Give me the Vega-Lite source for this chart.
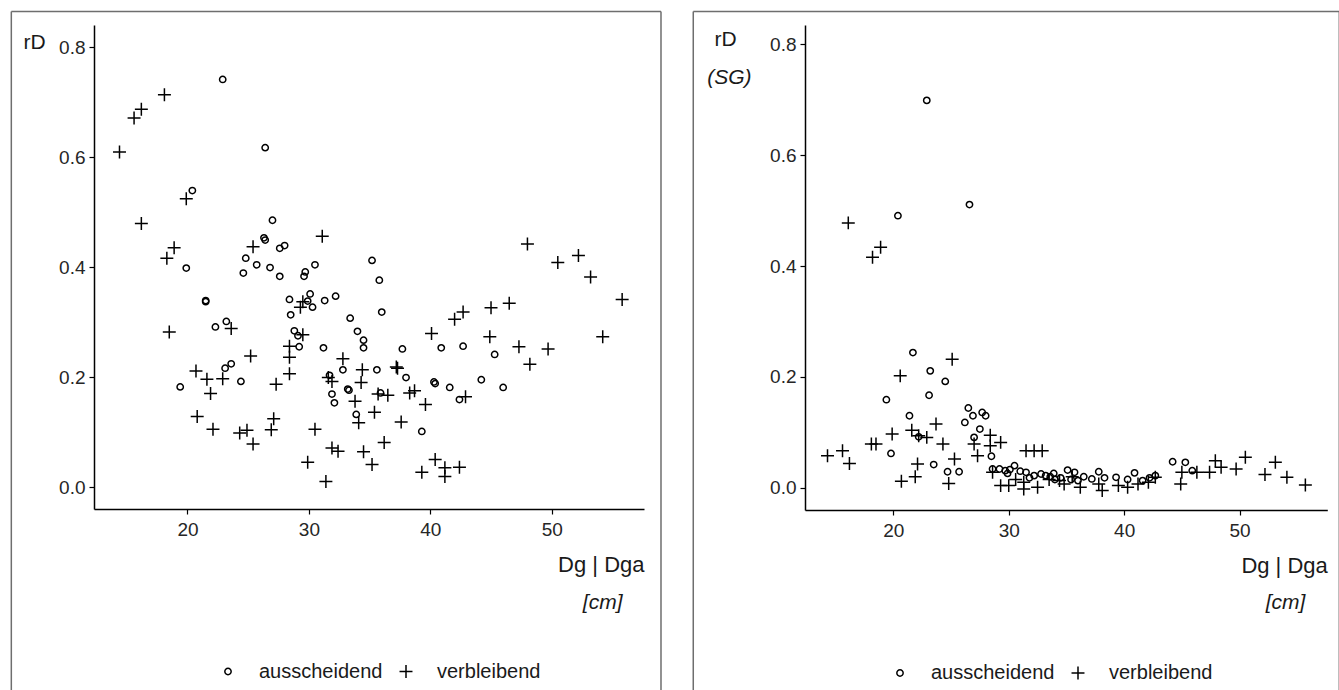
{
"$schema":"https://vega.github.io/schema/vega-lite/v6.json",
"background":"white",
"padding":{"left":10,"top":10,"right":0,"bottom":0},
"spacing":30,
"config":{"view":{"stroke":null},"font":"Liberation Sans",
"axis":{"grid":false,"domainColor":"#000","domainWidth":1.5,"tickColor":"#000","tickWidth":1.2,"tickSize":5,"labelFontSize":19,"labelColor":"#262626","labelPadding":4,"titleFontWeight":"normal","titleColor":"#1a1a1a"},
"legend":{"symbolStrokeColor":"#000","symbolStrokeWidth":1.5,"symbolSize":40,"labelFontSize":20,"labelColor":"#1a1a1a","labelOffset":21,"columnPadding":13}},
"datasets":{"pts":[
{"panel":"L","Typ":"ausscheidend","Dg":22.9,"rD":0.741},{"panel":"L","Typ":"ausscheidend","Dg":26.4,"rD":0.617},{"panel":"L","Typ":"ausscheidend","Dg":20.4,"rD":0.539},{"panel":"L","Typ":"ausscheidend","Dg":27.0,"rD":0.485},{"panel":"L","Typ":"ausscheidend","Dg":26.3,"rD":0.453},{"panel":"L","Typ":"ausscheidend","Dg":26.4,"rD":0.449},{"panel":"L","Typ":"ausscheidend","Dg":27.6,"rD":0.434},{"panel":"L","Typ":"ausscheidend","Dg":28.0,"rD":0.439},{"panel":"L","Typ":"ausscheidend","Dg":24.8,"rD":0.416},{"panel":"L","Typ":"ausscheidend","Dg":25.7,"rD":0.404},{"panel":"L","Typ":"ausscheidend","Dg":26.8,"rD":0.399},{"panel":"L","Typ":"ausscheidend","Dg":24.6,"rD":0.389},{"panel":"L","Typ":"ausscheidend","Dg":27.6,"rD":0.383},{"panel":"L","Typ":"ausscheidend","Dg":29.7,"rD":0.391},{"panel":"L","Typ":"ausscheidend","Dg":29.6,"rD":0.383},{"panel":"L","Typ":"ausscheidend","Dg":30.5,"rD":0.404},{"panel":"L","Typ":"ausscheidend","Dg":35.2,"rD":0.412},{"panel":"L","Typ":"ausscheidend","Dg":35.8,"rD":0.376},{"panel":"L","Typ":"ausscheidend","Dg":19.9,"rD":0.398},{"panel":"L","Typ":"ausscheidend","Dg":21.5,"rD":0.339},{"panel":"L","Typ":"ausscheidend","Dg":21.5,"rD":0.337},{"panel":"L","Typ":"ausscheidend","Dg":28.4,"rD":0.341},{"panel":"L","Typ":"ausscheidend","Dg":30.1,"rD":0.351},{"panel":"L","Typ":"ausscheidend","Dg":29.9,"rD":0.338},{"panel":"L","Typ":"ausscheidend","Dg":30.3,"rD":0.327},{"panel":"L","Typ":"ausscheidend","Dg":31.3,"rD":0.339},{"panel":"L","Typ":"ausscheidend","Dg":32.2,"rD":0.347},{"panel":"L","Typ":"ausscheidend","Dg":28.5,"rD":0.313},{"panel":"L","Typ":"ausscheidend","Dg":36.0,"rD":0.318},{"panel":"L","Typ":"ausscheidend","Dg":33.4,"rD":0.307},{"panel":"L","Typ":"ausscheidend","Dg":34.0,"rD":0.283},{"panel":"L","Typ":"ausscheidend","Dg":34.5,"rD":0.267},{"panel":"L","Typ":"ausscheidend","Dg":34.5,"rD":0.253},{"panel":"L","Typ":"ausscheidend","Dg":22.3,"rD":0.291},{"panel":"L","Typ":"ausscheidend","Dg":23.2,"rD":0.301},{"panel":"L","Typ":"ausscheidend","Dg":28.8,"rD":0.284},{"panel":"L","Typ":"ausscheidend","Dg":29.1,"rD":0.275},{"panel":"L","Typ":"ausscheidend","Dg":29.2,"rD":0.255},{"panel":"L","Typ":"ausscheidend","Dg":31.2,"rD":0.253},{"panel":"L","Typ":"ausscheidend","Dg":37.7,"rD":0.251},{"panel":"L","Typ":"ausscheidend","Dg":40.9,"rD":0.253},{"panel":"L","Typ":"ausscheidend","Dg":42.7,"rD":0.256},{"panel":"L","Typ":"ausscheidend","Dg":45.3,"rD":0.241},{"panel":"L","Typ":"ausscheidend","Dg":32.8,"rD":0.213},{"panel":"L","Typ":"ausscheidend","Dg":35.6,"rD":0.213},{"panel":"L","Typ":"ausscheidend","Dg":31.7,"rD":0.203},{"panel":"L","Typ":"ausscheidend","Dg":23.1,"rD":0.216},{"panel":"L","Typ":"ausscheidend","Dg":23.6,"rD":0.224},{"panel":"L","Typ":"ausscheidend","Dg":19.4,"rD":0.182},{"panel":"L","Typ":"ausscheidend","Dg":24.4,"rD":0.192},{"panel":"L","Typ":"ausscheidend","Dg":31.9,"rD":0.169},{"panel":"L","Typ":"ausscheidend","Dg":32.1,"rD":0.153},{"panel":"L","Typ":"ausscheidend","Dg":33.2,"rD":0.178},{"panel":"L","Typ":"ausscheidend","Dg":33.3,"rD":0.176},{"panel":"L","Typ":"ausscheidend","Dg":35.9,"rD":0.171},{"panel":"L","Typ":"ausscheidend","Dg":38.0,"rD":0.199},{"panel":"L","Typ":"ausscheidend","Dg":40.3,"rD":0.191},{"panel":"L","Typ":"ausscheidend","Dg":40.4,"rD":0.188},{"panel":"L","Typ":"ausscheidend","Dg":41.6,"rD":0.181},{"panel":"L","Typ":"ausscheidend","Dg":44.2,"rD":0.195},{"panel":"L","Typ":"ausscheidend","Dg":46.0,"rD":0.181},{"panel":"L","Typ":"ausscheidend","Dg":42.4,"rD":0.159},{"panel":"L","Typ":"ausscheidend","Dg":33.9,"rD":0.132},{"panel":"L","Typ":"ausscheidend","Dg":39.3,"rD":0.101},
{"panel":"L","Typ":"verbleibend","Dg":14.4,"rD":0.609},{"panel":"L","Typ":"verbleibend","Dg":15.6,"rD":0.671},{"panel":"L","Typ":"verbleibend","Dg":16.2,"rD":0.687},{"panel":"L","Typ":"verbleibend","Dg":18.1,"rD":0.713},{"panel":"L","Typ":"verbleibend","Dg":16.2,"rD":0.479},{"panel":"L","Typ":"verbleibend","Dg":19.9,"rD":0.524},{"panel":"L","Typ":"verbleibend","Dg":25.4,"rD":0.437},{"panel":"L","Typ":"verbleibend","Dg":31.1,"rD":0.456},{"panel":"L","Typ":"verbleibend","Dg":18.9,"rD":0.435},{"panel":"L","Typ":"verbleibend","Dg":18.3,"rD":0.416},{"panel":"L","Typ":"verbleibend","Dg":48.0,"rD":0.442},{"panel":"L","Typ":"verbleibend","Dg":50.5,"rD":0.408},{"panel":"L","Typ":"verbleibend","Dg":52.2,"rD":0.421},{"panel":"L","Typ":"verbleibend","Dg":53.2,"rD":0.382},{"panel":"L","Typ":"verbleibend","Dg":55.8,"rD":0.341},{"panel":"L","Typ":"verbleibend","Dg":54.2,"rD":0.273},{"panel":"L","Typ":"verbleibend","Dg":18.5,"rD":0.282},{"panel":"L","Typ":"verbleibend","Dg":23.6,"rD":0.288},{"panel":"L","Typ":"verbleibend","Dg":29.5,"rD":0.337},{"panel":"L","Typ":"verbleibend","Dg":29.3,"rD":0.327},{"panel":"L","Typ":"verbleibend","Dg":29.5,"rD":0.277},{"panel":"L","Typ":"verbleibend","Dg":28.4,"rD":0.256},{"panel":"L","Typ":"verbleibend","Dg":28.4,"rD":0.236},{"panel":"L","Typ":"verbleibend","Dg":25.2,"rD":0.238},{"panel":"L","Typ":"verbleibend","Dg":28.4,"rD":0.206},{"panel":"L","Typ":"verbleibend","Dg":20.7,"rD":0.211},{"panel":"L","Typ":"verbleibend","Dg":21.6,"rD":0.196},{"panel":"L","Typ":"verbleibend","Dg":21.9,"rD":0.170},{"panel":"L","Typ":"verbleibend","Dg":22.9,"rD":0.197},{"panel":"L","Typ":"verbleibend","Dg":27.3,"rD":0.187},{"panel":"L","Typ":"verbleibend","Dg":31.6,"rD":0.199},{"panel":"L","Typ":"verbleibend","Dg":31.9,"rD":0.192},{"panel":"L","Typ":"verbleibend","Dg":32.8,"rD":0.233},{"panel":"L","Typ":"verbleibend","Dg":34.4,"rD":0.213},{"panel":"L","Typ":"verbleibend","Dg":37.2,"rD":0.218},{"panel":"L","Typ":"verbleibend","Dg":37.3,"rD":0.216},{"panel":"L","Typ":"verbleibend","Dg":34.3,"rD":0.190},{"panel":"L","Typ":"verbleibend","Dg":33.8,"rD":0.156},{"panel":"L","Typ":"verbleibend","Dg":35.7,"rD":0.169},{"panel":"L","Typ":"verbleibend","Dg":36.5,"rD":0.167},{"panel":"L","Typ":"verbleibend","Dg":38.3,"rD":0.171},{"panel":"L","Typ":"verbleibend","Dg":38.7,"rD":0.175},{"panel":"L","Typ":"verbleibend","Dg":39.6,"rD":0.150},{"panel":"L","Typ":"verbleibend","Dg":42.9,"rD":0.164},{"panel":"L","Typ":"verbleibend","Dg":40.1,"rD":0.279},{"panel":"L","Typ":"verbleibend","Dg":42.0,"rD":0.305},{"panel":"L","Typ":"verbleibend","Dg":42.7,"rD":0.318},{"panel":"L","Typ":"verbleibend","Dg":45.0,"rD":0.326},{"panel":"L","Typ":"verbleibend","Dg":46.5,"rD":0.334},{"panel":"L","Typ":"verbleibend","Dg":44.9,"rD":0.273},{"panel":"L","Typ":"verbleibend","Dg":47.3,"rD":0.255},{"panel":"L","Typ":"verbleibend","Dg":49.7,"rD":0.251},{"panel":"L","Typ":"verbleibend","Dg":48.2,"rD":0.223},{"panel":"L","Typ":"verbleibend","Dg":34.1,"rD":0.117},{"panel":"L","Typ":"verbleibend","Dg":35.4,"rD":0.136},{"panel":"L","Typ":"verbleibend","Dg":37.6,"rD":0.118},{"panel":"L","Typ":"verbleibend","Dg":20.8,"rD":0.128},{"panel":"L","Typ":"verbleibend","Dg":22.1,"rD":0.105},{"panel":"L","Typ":"verbleibend","Dg":24.3,"rD":0.098},{"panel":"L","Typ":"verbleibend","Dg":24.9,"rD":0.103},{"panel":"L","Typ":"verbleibend","Dg":25.4,"rD":0.078},{"panel":"L","Typ":"verbleibend","Dg":27.1,"rD":0.124},{"panel":"L","Typ":"verbleibend","Dg":26.9,"rD":0.104},{"panel":"L","Typ":"verbleibend","Dg":30.5,"rD":0.105},{"panel":"L","Typ":"verbleibend","Dg":29.9,"rD":0.045},{"panel":"L","Typ":"verbleibend","Dg":31.4,"rD":0.010},{"panel":"L","Typ":"verbleibend","Dg":31.9,"rD":0.071},{"panel":"L","Typ":"verbleibend","Dg":32.4,"rD":0.065},{"panel":"L","Typ":"verbleibend","Dg":34.5,"rD":0.064},{"panel":"L","Typ":"verbleibend","Dg":35.2,"rD":0.041},{"panel":"L","Typ":"verbleibend","Dg":36.2,"rD":0.081},{"panel":"L","Typ":"verbleibend","Dg":40.4,"rD":0.050},{"panel":"L","Typ":"verbleibend","Dg":39.3,"rD":0.027},{"panel":"L","Typ":"verbleibend","Dg":41.2,"rD":0.035},{"panel":"L","Typ":"verbleibend","Dg":41.2,"rD":0.019},{"panel":"L","Typ":"verbleibend","Dg":42.4,"rD":0.036},
{"panel":"R","Typ":"ausscheidend","Dg":22.9,"rD":0.699},{"panel":"R","Typ":"ausscheidend","Dg":26.6,"rD":0.511},{"panel":"R","Typ":"ausscheidend","Dg":20.4,"rD":0.491},{"panel":"R","Typ":"ausscheidend","Dg":21.7,"rD":0.244},{"panel":"R","Typ":"ausscheidend","Dg":23.2,"rD":0.211},{"panel":"R","Typ":"ausscheidend","Dg":24.5,"rD":0.192},{"panel":"R","Typ":"ausscheidend","Dg":23.1,"rD":0.167},{"panel":"R","Typ":"ausscheidend","Dg":19.4,"rD":0.159},{"panel":"R","Typ":"ausscheidend","Dg":21.4,"rD":0.130},{"panel":"R","Typ":"ausscheidend","Dg":22.2,"rD":0.092},{"panel":"R","Typ":"ausscheidend","Dg":19.8,"rD":0.062},{"panel":"R","Typ":"ausscheidend","Dg":23.5,"rD":0.042},{"panel":"R","Typ":"ausscheidend","Dg":24.7,"rD":0.029},{"panel":"R","Typ":"ausscheidend","Dg":25.7,"rD":0.029},{"panel":"R","Typ":"ausscheidend","Dg":26.5,"rD":0.144},{"panel":"R","Typ":"ausscheidend","Dg":26.9,"rD":0.130},{"panel":"R","Typ":"ausscheidend","Dg":26.2,"rD":0.118},{"panel":"R","Typ":"ausscheidend","Dg":27.7,"rD":0.136},{"panel":"R","Typ":"ausscheidend","Dg":28.0,"rD":0.130},{"panel":"R","Typ":"ausscheidend","Dg":27.5,"rD":0.106},{"panel":"R","Typ":"ausscheidend","Dg":27.0,"rD":0.091},{"panel":"R","Typ":"ausscheidend","Dg":28.5,"rD":0.057},{"panel":"R","Typ":"ausscheidend","Dg":28.6,"rD":0.034},{"panel":"R","Typ":"ausscheidend","Dg":29.2,"rD":0.034},{"panel":"R","Typ":"ausscheidend","Dg":29.7,"rD":0.031},{"panel":"R","Typ":"ausscheidend","Dg":30.1,"rD":0.033},{"panel":"R","Typ":"ausscheidend","Dg":30.5,"rD":0.040},{"panel":"R","Typ":"ausscheidend","Dg":31.0,"rD":0.030},{"panel":"R","Typ":"ausscheidend","Dg":31.5,"rD":0.028},{"panel":"R","Typ":"ausscheidend","Dg":32.2,"rD":0.022},{"panel":"R","Typ":"ausscheidend","Dg":32.8,"rD":0.025},{"panel":"R","Typ":"ausscheidend","Dg":33.2,"rD":0.022},{"panel":"R","Typ":"ausscheidend","Dg":33.9,"rD":0.026},{"panel":"R","Typ":"ausscheidend","Dg":34.5,"rD":0.018},{"panel":"R","Typ":"ausscheidend","Dg":35.1,"rD":0.032},{"panel":"R","Typ":"ausscheidend","Dg":35.7,"rD":0.028},{"panel":"R","Typ":"ausscheidend","Dg":36.0,"rD":0.013},{"panel":"R","Typ":"ausscheidend","Dg":36.5,"rD":0.020},{"panel":"R","Typ":"ausscheidend","Dg":37.8,"rD":0.029},{"panel":"R","Typ":"ausscheidend","Dg":38.3,"rD":0.018},{"panel":"R","Typ":"ausscheidend","Dg":39.3,"rD":0.019},{"panel":"R","Typ":"ausscheidend","Dg":40.3,"rD":0.015},{"panel":"R","Typ":"ausscheidend","Dg":40.9,"rD":0.027},{"panel":"R","Typ":"ausscheidend","Dg":41.6,"rD":0.013},{"panel":"R","Typ":"ausscheidend","Dg":42.2,"rD":0.018},{"panel":"R","Typ":"ausscheidend","Dg":42.7,"rD":0.022},{"panel":"R","Typ":"ausscheidend","Dg":44.2,"rD":0.047},{"panel":"R","Typ":"ausscheidend","Dg":45.3,"rD":0.046},{"panel":"R","Typ":"ausscheidend","Dg":45.9,"rD":0.031},{"panel":"R","Typ":"ausscheidend","Dg":34.0,"rD":0.015},{"panel":"R","Typ":"ausscheidend","Dg":31.8,"rD":0.018},{"panel":"R","Typ":"ausscheidend","Dg":37.2,"rD":0.016},{"panel":"R","Typ":"ausscheidend","Dg":29.9,"rD":0.026},{"panel":"R","Typ":"ausscheidend","Dg":33.6,"rD":0.020},{"panel":"R","Typ":"ausscheidend","Dg":35.4,"rD":0.015},
{"panel":"R","Typ":"verbleibend","Dg":14.3,"rD":0.058},{"panel":"R","Typ":"verbleibend","Dg":15.6,"rD":0.067},{"panel":"R","Typ":"verbleibend","Dg":16.2,"rD":0.044},{"panel":"R","Typ":"verbleibend","Dg":16.1,"rD":0.478},{"panel":"R","Typ":"verbleibend","Dg":18.9,"rD":0.434},{"panel":"R","Typ":"verbleibend","Dg":18.2,"rD":0.416},{"panel":"R","Typ":"verbleibend","Dg":18.1,"rD":0.079},{"panel":"R","Typ":"verbleibend","Dg":18.5,"rD":0.079},{"panel":"R","Typ":"verbleibend","Dg":19.9,"rD":0.097},{"panel":"R","Typ":"verbleibend","Dg":20.6,"rD":0.202},{"panel":"R","Typ":"verbleibend","Dg":25.1,"rD":0.232},{"panel":"R","Typ":"verbleibend","Dg":23.7,"rD":0.115},{"panel":"R","Typ":"verbleibend","Dg":21.6,"rD":0.104},{"panel":"R","Typ":"verbleibend","Dg":22.2,"rD":0.094},{"panel":"R","Typ":"verbleibend","Dg":22.9,"rD":0.091},{"panel":"R","Typ":"verbleibend","Dg":24.3,"rD":0.079},{"panel":"R","Typ":"verbleibend","Dg":22.1,"rD":0.043},{"panel":"R","Typ":"verbleibend","Dg":21.9,"rD":0.020},{"panel":"R","Typ":"verbleibend","Dg":20.7,"rD":0.012},{"panel":"R","Typ":"verbleibend","Dg":25.3,"rD":0.052},{"panel":"R","Typ":"verbleibend","Dg":24.8,"rD":0.008},{"panel":"R","Typ":"verbleibend","Dg":27.0,"rD":0.079},{"panel":"R","Typ":"verbleibend","Dg":27.3,"rD":0.058},{"panel":"R","Typ":"verbleibend","Dg":28.4,"rD":0.095},{"panel":"R","Typ":"verbleibend","Dg":29.3,"rD":0.082},{"panel":"R","Typ":"verbleibend","Dg":28.4,"rD":0.076},{"panel":"R","Typ":"verbleibend","Dg":28.6,"rD":0.028},{"panel":"R","Typ":"verbleibend","Dg":29.3,"rD":0.004},{"panel":"R","Typ":"verbleibend","Dg":30.0,"rD":0.004},{"panel":"R","Typ":"verbleibend","Dg":31.5,"rD":0.067},{"panel":"R","Typ":"verbleibend","Dg":32.2,"rD":0.067},{"panel":"R","Typ":"verbleibend","Dg":32.9,"rD":0.067},{"panel":"R","Typ":"verbleibend","Dg":31.3,"rD":0.010},{"panel":"R","Typ":"verbleibend","Dg":31.3,"rD":-0.002},{"panel":"R","Typ":"verbleibend","Dg":32.5,"rD":0.001},{"panel":"R","Typ":"verbleibend","Dg":34.4,"rD":0.013},{"panel":"R","Typ":"verbleibend","Dg":34.8,"rD":0.007},{"panel":"R","Typ":"verbleibend","Dg":36.2,"rD":0.001},{"panel":"R","Typ":"verbleibend","Dg":37.8,"rD":0.007},{"panel":"R","Typ":"verbleibend","Dg":38.1,"rD":-0.005},{"panel":"R","Typ":"verbleibend","Dg":39.5,"rD":0.004},{"panel":"R","Typ":"verbleibend","Dg":40.3,"rD":0.001},{"panel":"R","Typ":"verbleibend","Dg":41.2,"rD":0.007},{"panel":"R","Typ":"verbleibend","Dg":42.1,"rD":0.010},{"panel":"R","Typ":"verbleibend","Dg":42.7,"rD":0.019},{"panel":"R","Typ":"verbleibend","Dg":44.9,"rD":0.007},{"panel":"R","Typ":"verbleibend","Dg":45.0,"rD":0.028},{"panel":"R","Typ":"verbleibend","Dg":46.3,"rD":0.028},{"panel":"R","Typ":"verbleibend","Dg":47.4,"rD":0.028},{"panel":"R","Typ":"verbleibend","Dg":47.9,"rD":0.049},{"panel":"R","Typ":"verbleibend","Dg":48.4,"rD":0.037},{"panel":"R","Typ":"verbleibend","Dg":49.7,"rD":0.034},{"panel":"R","Typ":"verbleibend","Dg":50.5,"rD":0.055},{"panel":"R","Typ":"verbleibend","Dg":52.2,"rD":0.024},{"panel":"R","Typ":"verbleibend","Dg":53.1,"rD":0.046},{"panel":"R","Typ":"verbleibend","Dg":54.1,"rD":0.019},{"panel":"R","Typ":"verbleibend","Dg":55.7,"rD":0.005},{"panel":"R","Typ":"verbleibend","Dg":33.5,"rD":0.015},{"panel":"R","Typ":"verbleibend","Dg":35.5,"rD":0.020},{"panel":"R","Typ":"verbleibend","Dg":30.6,"rD":0.015}
]},
"hconcat":[
{"width":550,"height":484,
"layer":[
{"data":{"values":[{}]},"mark":{"type":"rule","color":"#6e6e6e","strokeWidth":1.5,"clip":false},"encoding":{"x":{"datum":5.49,"type":"quantitative"},"y":{"datum":0.8645,"type":"quantitative"},"y2":{"datum":-0.37}}},
{"data":{"values":[{}]},"mark":{"type":"rule","color":"#6e6e6e","strokeWidth":1.5,"clip":false},"encoding":{"x":{"datum":5.49,"type":"quantitative"},"x2":{"datum":59.0},"y":{"datum":0.8645,"type":"quantitative"}}},
{"data":{"values":[{}]},"mark":{"type":"rule","color":"#6e6e6e","strokeWidth":1.5,"clip":false},"encoding":{"x":{"datum":59.0,"type":"quantitative"},"y":{"datum":0.8645,"type":"quantitative"},"y2":{"datum":-0.37}}},
{"data":{"values":[{}]},"mark":{"type":"text","text":"[cm]","align":"right","baseline":"alphabetic","fontStyle":"italic","fontSize":21,"color":"#1a1a1a"},"encoding":{"x":{"datum":55.83,"type":"quantitative"},"y":{"datum":-0.2227,"type":"quantitative"}}},
{"data":{"name":"pts"},"transform":[{"filter":"datum.panel === 'L'"}],
"mark":{"type":"point","filled":false,"strokeWidth":1.5,"opacity":1,"color":"#000","size":40},
"encoding":{
"x":{"field":"Dg","type":"quantitative","scale":{"domain":[12.3,57.6],"nice":false,"zero":false},"axis":{"values":[20,30,40,50],"format":"d","labelPadding":6,"title":"Dg | Dga","titleFontSize":22,"titleX":550,"titleY":62,"titleAlign":"right","titleAnchor":"end","titleBaseline":"alphabetic"}},
"y":{"field":"rD","type":"quantitative","scale":{"domain":[-0.04,0.84],"nice":false,"zero":false},"axis":{"values":[0,0.2,0.4,0.6,0.8],"format":".1f","title":"rD","titleAngle":0,"titleFontSize":21,"titleX":-71,"titleY":23,"titleAlign":"left","titleBaseline":"alphabetic"}},
"shape":{"field":"Typ","type":"nominal","scale":{"domain":["ausscheidend","verbleibend"],"range":["circle","M-2.05,0H2.05M0,-2.05V2.05"]},"legend":{"orient":"none","legendX":124,"legendY":636.5,"direction":"horizontal","title":null}}
}}
]},
{"width":522.3,"height":485,
"layer":[
{"data":{"values":[{}]},"mark":{"type":"rule","color":"#6e6e6e","strokeWidth":1.5,"clip":false},"encoding":{"x":{"datum":2.67,"type":"quantitative"},"y":{"datum":0.8594,"type":"quantitative"},"y2":{"datum":-0.3656}}},
{"data":{"values":[{}]},"mark":{"type":"rule","color":"#6e6e6e","strokeWidth":1.5,"clip":false},"encoding":{"x":{"datum":2.67,"type":"quantitative"},"x2":{"datum":58.64},"y":{"datum":0.8594,"type":"quantitative"}}},
{"data":{"values":[{}]},"mark":{"type":"rule","color":"#6e6e6e","strokeWidth":1.5,"clip":false},"encoding":{"x":{"datum":58.64,"type":"quantitative"},"y":{"datum":0.8594,"type":"quantitative"},"y2":{"datum":-0.3656}}},
{"data":{"values":[{}]},"mark":{"type":"text","text":"[cm]","align":"right","baseline":"alphabetic","fontStyle":"italic","fontSize":21,"color":"#1a1a1a"},"encoding":{"x":{"datum":55.7,"type":"quantitative"},"y":{"datum":-0.2195,"type":"quantitative"}}},
{"data":{"values":[{}]},"mark":{"type":"text","text":"(SG)","align":"left","baseline":"alphabetic","fontStyle":"italic","fontSize":21,"color":"#1a1a1a"},"encoding":{"x":{"datum":3.884,"type":"quantitative"},"y":{"datum":0.7277,"type":"quantitative"}}},
{"data":{"name":"pts"},"transform":[{"filter":"datum.panel === 'R'"}],
"mark":{"type":"point","filled":false,"strokeWidth":1.5,"opacity":1,"color":"#000","size":40},
"encoding":{
"x":{"field":"Dg","type":"quantitative","scale":{"domain":[12.35,57.6],"nice":false,"zero":false},"axis":{"values":[20,30,40,50],"format":"d","labelPadding":6,"title":"Dg | Dga","titleFontSize":22,"titleX":522.3,"titleY":62,"titleAlign":"right","titleAnchor":"end","titleBaseline":"alphabetic"}},
"y":{"field":"rD","type":"quantitative","scale":{"domain":[-0.04,0.835],"nice":false,"zero":false},"axis":{"values":[0,0.2,0.4,0.6,0.8],"format":".1f","title":"rD","titleAngle":0,"titleFontSize":21,"titleX":-91,"titleY":20,"titleAlign":"left","titleBaseline":"alphabetic"}},
"shape":{"field":"Typ","type":"nominal","scale":{"domain":["ausscheidend","verbleibend"],"range":["circle","M-2.05,0H2.05M0,-2.05V2.05"]},"legend":{"orient":"none","legendX":85,"legendY":638,"direction":"horizontal","title":null}}
}}
]}
],
"resolve":{"scale":{"shape":"independent"},"legend":{"shape":"independent"}}
}
